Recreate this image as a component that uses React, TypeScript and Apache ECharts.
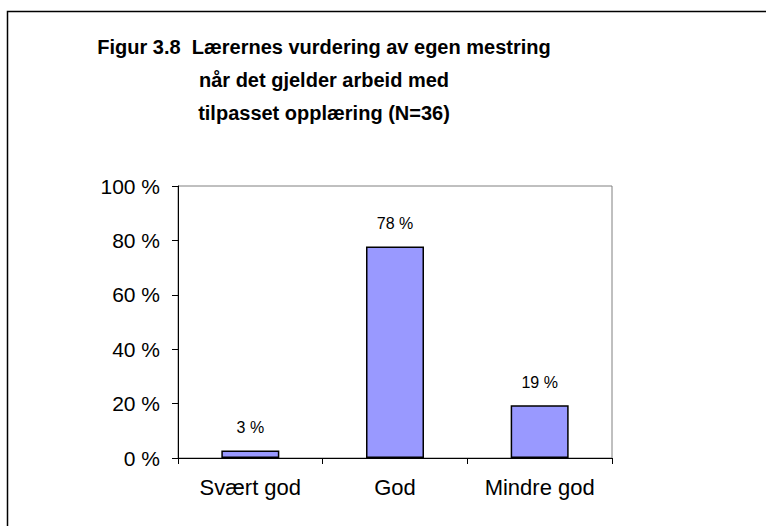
import React, { useEffect, useRef } from "react";
import * as echarts from "echarts";

const categories = ["Svært god", "God", "Mindre god"];
const values = [2.8, 77.8, 19.4];
const yTicks = [0, 20, 40, 60, 80, 100];
const titleLines = [
  "Figur 3.8  Lærernes vurdering av egen mestring",
  "når det gjelder arbeid med",
  "tilpasset opplæring (N=36)",
];

export default function App() {
  const ref = useRef<HTMLDivElement>(null);
  useEffect(() => {
    if (!ref.current) return;
    const chart = echarts.init(ref.current, null, { renderer: "svg" });
    const font = "'Liberation Sans', Arial, sans-serif";
    chart.setOption({
      animation: false,
      backgroundColor: "#ffffff",
      graphic: [
        {
          type: "rect",
          shape: { x: 7.5, y: 11.5, width: 900, height: 700 },
          style: { fill: "none", stroke: "#000000", lineWidth: 1.5 },
          silent: true,
          z: 0,
        },
        ...titleLines.map((t, i) => ({
          type: "text",
          x: 324,
          y: 47 + i * 33,
          style: {
            text: t,
            fontFamily: font,
            fontWeight: "bold",
            fontSize: 20,
            fill: "#000000",
            textAlign: "center",
            textVerticalAlign: "middle",
          },
        })),
      ],
      grid: {
        left: 178,
        top: 186,
        width: 434,
        height: 272,
        show: true,
        borderColor: "#808080",
        borderWidth: 1,
        backgroundColor: "transparent",
        containLabel: false,
      },
      xAxis: {
        type: "category",
        data: categories,
        boundaryGap: true,
        axisLine: { show: true, lineStyle: { color: "#000000", width: 1 } },
        axisTick: { show: true, length: 6, alignWithLabel: false, lineStyle: { color: "#000000" } },
        axisLabel: { fontFamily: font, fontSize: 22, color: "#000000", margin: 18 },
        splitLine: { show: false },
      },
      yAxis: {
        type: "value",
        min: yTicks[0],
        max: yTicks[yTicks.length - 1],
        interval: 20,
        axisLine: { show: true, lineStyle: { color: "#000000", width: 1 } },
        axisTick: { show: true, length: 6, lineStyle: { color: "#000000" } },
        axisLabel: {
          fontFamily: font,
          fontSize: 21,
          color: "#000000",
          margin: 18,
          formatter: (v: number) => `${v} %`,
        },
        splitLine: { show: false },
      },
      series: [
        {
          type: "bar",
          data: values,
          barWidth: 58,
          itemStyle: { color: "#9999FF", borderColor: "#000000", borderWidth: 1.5 },
          label: {
            show: true,
            position: "top",
            distance: 15,
            fontFamily: font,
            fontSize: 16,
            color: "#000000",
            formatter: (p: any) => `${Math.round(p.value)} %`,
          },
        },
      ],
    });
    return () => chart.dispose();
  }, []);
  return (
    <div
      ref={ref}
      style={{ position: "fixed", left: 0, top: 0, width: 766, height: 526 }}
    />
  );
}
